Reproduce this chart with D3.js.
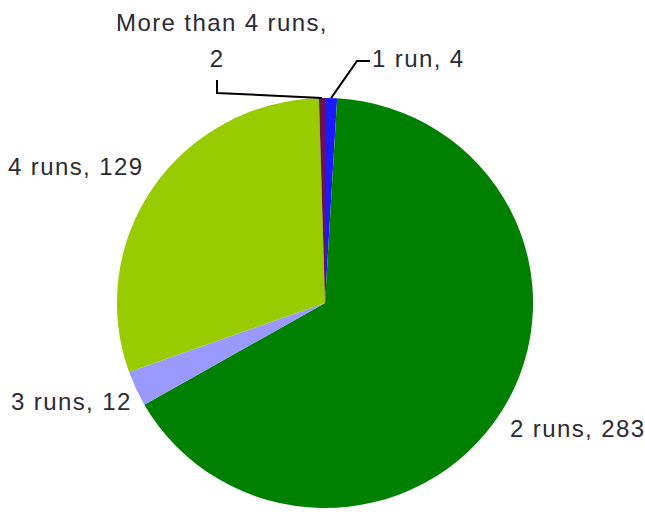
<!DOCTYPE html>
<html>
<head>
<meta charset="utf-8">
<script src="https://cdn.jsdelivr.net/npm/d3@7"></script>
<style>
  html, body { margin: 0; padding: 0; background: #fff; }
  svg { display: block; }
  text { font-family: "Liberation Sans", Arial, sans-serif; font-size: 24px; fill: #2b2b33; letter-spacing: 1.4px; }
</style>
</head>
<body>
<svg id="chart" width="645" height="512"></svg>
<script>
// Number of runs per record
const categories = ["1 run", "2 runs", "3 runs", "4 runs", "More than 4 runs"];
const counts = [4, 283, 12, 129, 2];
const colors = ["#1a1aff", "#008000", "#9999ff", "#99cc00", "#6e0f5c"];

const svg = d3.select("#chart");
const W = 645, H = 512;
const cx = 325, cy = 303, r = 205, sx = 1.015;

const data = categories.map((c, i) => ({ name: c, value: counts[i], color: colors[i] }));

const pie = d3.pie().value(d => d.value).sort(null);
const arcs = pie(data);
const arc = d3.arc().innerRadius(0).outerRadius(r);

const g = svg.append("g").attr("transform", `translate(${cx},${cy}) scale(${sx},1)`);
g.selectAll("path")
  .data(arcs)
  .join("path")
  .attr("d", arc)
  .attr("fill", d => d.data.color);

// point on the rim at a slice's mid-angle, in page coordinates
function rimPoint(a) {
  const m = (a.startAngle + a.endAngle) / 2;
  return [cx + sx * r * Math.sin(m), cy - r * Math.cos(m)];
}

// leader lines for the two thin slices at the top
const leaders = [
  { idx: 0, bend: [357, 61], end: [370, 61] },
  { idx: 4, bend: [217, 93], end: [217, 80] }
];
leaders.forEach(l => {
  const p = rimPoint(arcs[l.idx]);
  svg.append("path")
    .attr("d", d3.line()([p, l.bend, l.end]))
    .attr("fill", "none")
    .attr("stroke", "#000")
    .attr("stroke-width", 2);
});

// labels: "name, value"
const labelLayout = [
  { idx: 0, lines: null, x: 372, y: 67, anchor: "start" },
  { idx: 1, lines: null, x: 510, y: 437, anchor: "start" },
  { idx: 2, lines: null, x: 11, y: 410, anchor: "start" },
  { idx: 3, lines: null, x: 8, y: 175, anchor: "start" },
  { idx: 4, lines: [[116, 31, "start"], [217, 67, "middle"]], anchor: "start" }
];

labelLayout.forEach(l => {
  const d = data[l.idx];
  if (l.lines) {
    const parts = [d.name + ",", String(d.value)];
    l.lines.forEach((ln, i) => {
      svg.append("text")
        .attr("x", ln[0]).attr("y", ln[1])
        .attr("text-anchor", ln[2])
        .text(parts[i]);
    });
  } else {
    svg.append("text")
      .attr("x", l.x).attr("y", l.y)
      .attr("text-anchor", l.anchor)
      .text(`${d.name}, ${d.value}`);
  }
});
</script>
</body>
</html>
